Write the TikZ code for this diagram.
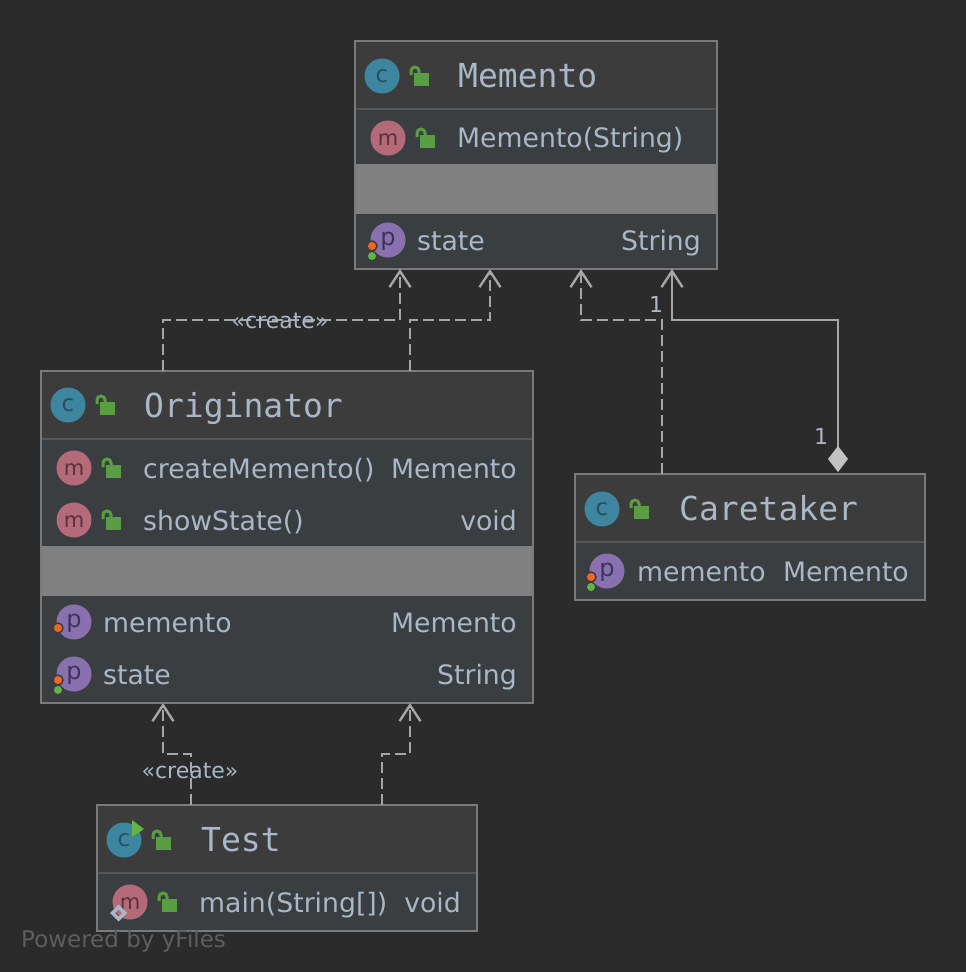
\documentclass[tikz,border=0pt]{standalone}
\usepackage{fontspec}
\setmainfont{DejaVu Sans}
\newfontfamily\titlefam{DejaVu Sans Mono}
\usetikzlibrary{positioning,arrows.meta,calc}

\definecolor{canvas}{HTML}{2B2B2B}
\definecolor{headfill}{HTML}{3C3C3C}
\definecolor{rowfill}{HTML}{3A3E41}
\definecolor{bandfill}{HTML}{808080}
\definecolor{edgeline}{HTML}{7A7A7A}
\definecolor{sepline}{HTML}{565656}
\definecolor{wire}{HTML}{A6A6A6}
\definecolor{diamondfill}{HTML}{C2C2C2}
\definecolor{labeltext}{HTML}{A9B7C6}
\definecolor{poweredtext}{HTML}{5E5E5E}
\definecolor{lockgreen}{HTML}{599E43}
\definecolor{runfill}{HTML}{62B543}
\definecolor{dotfill}{HTML}{F36523}
\definecolor{cfill}{HTML}{3E86A0}
\definecolor{ctext}{HTML}{26505F}
\definecolor{mfill}{HTML}{B56A7A}
\definecolor{mtext}{HTML}{5A323E}
\definecolor{pfill}{HTML}{8971B0}
\definecolor{ptext}{HTML}{3E325C}

\tikzset{
  classbox/.style={draw=edgeline, line width=2pt, fill=headfill, anchor=north west, inner sep=0pt, outer sep=0pt},
  rowpart/.style={fill=rowfill, anchor=north west, inner sep=0pt, outer sep=0pt},
  bandpart/.style={fill=bandfill, anchor=north west, inner sep=0pt, outer sep=0pt, minimum height=50pt},
  titletext/.style={font=\titlefam\fontsize{33}{36}\selectfont, text=labeltext, anchor=base west, inner sep=0pt},
  rowtext/.style={font=\fontsize{26.7}{30}\selectfont, text=labeltext, anchor=base west, inner sep=0pt},
  typetext/.style={font=\fontsize{26.7}{30}\selectfont, text=labeltext, anchor=base east, inner sep=0pt},
  edgetext/.style={font=\fontsize{22}{24}\selectfont, text=labeltext, anchor=base, inner sep=0pt},
  iconbase/.style={circle, minimum size=35pt, inner sep=0pt},
  iconc/.style={iconbase, fill=cfill, text=ctext, font=\fontsize{23}{26}\selectfont, text height=12pt, text depth=0pt},
  iconm/.style={iconbase, fill=mfill, text=mtext, font=\fontsize{21}{24}\selectfont, text height=14pt, text depth=0pt},
  iconp/.style={iconbase, fill=pfill, text=ptext, font=\fontsize{24}{27}\selectfont, text height=14pt, text depth=4pt},
  dotorange/.style={circle, fill=dotfill, draw=rowfill, line width=1.5pt, minimum size=10pt, inner sep=0pt},
  dotgreen/.style={circle, fill=runfill, minimum size=8pt, inner sep=0pt},
  depend/.style={draw=wire, line width=2.4pt, dash pattern=on 11pt off 5pt, -{Straight Barb[length=16pt,width=21pt]}},
  owner/.style={draw=wire, line width=2.4pt, shorten <=2pt, {Diamond[length=26pt,width=20pt,color=diamondfill,fill=diamondfill]}-{Straight Barb[length=16pt,width=21pt]}},
  pics/lockicon/.style={code={
    \fill[lockgreen] (32,-3) rectangle (47,10);
    \draw[lockgreen, line width=3pt] (29,-1) -- (29,-5) arc[start angle=180, end angle=0, radius=4pt] -- (37,-2);
  }},
}

\begin{document}
\begin{tikzpicture}[x=1pt, y=-1pt]
  \fill[canvas] (0,0) rectangle (966,972);

  % class boxes
  \node[classbox, minimum width=362pt, minimum height=228pt] (memento) at (355,41) {};
  \node[classbox, minimum width=492pt, minimum height=332pt] (originator) at (41,371) {};
  \node[classbox, minimum width=350pt, minimum height=126pt] (caretaker) at (575,474) {};
  \node[classbox, minimum width=380pt, minimum height=126pt] (test) at (97,805) {};

  % compartments
  \node[rowpart, minimum width=360pt, minimum height=55pt] (mementoops) at (356,109) {};
  \node[bandpart, minimum width=360pt] (mementoband) at (356,164) {};
  \node[rowpart, minimum width=360pt, minimum height=54pt] (mementoprops) at (356,214) {};
  \node[rowpart, minimum width=490pt, minimum height=107pt] (originatorops) at (42,439) {};
  \node[bandpart, minimum width=490pt] (originatorband) at (42,546) {};
  \node[rowpart, minimum width=490pt, minimum height=106pt] (originatorprops) at (42,596) {};
  \node[rowpart, minimum width=348pt, minimum height=57pt] (caretakerprops) at (576,542) {};
  \node[rowpart, minimum width=378pt, minimum height=57pt] (testops) at (98,873) {};
  \draw[sepline, line width=2pt] (mementoops.north west) -- (mementoops.north east);
  \draw[sepline, line width=2pt] (originatorops.north west) -- (originatorops.north east);
  \draw[sepline, line width=2pt] (caretakerprops.north west) -- (caretakerprops.north east);
  \draw[sepline, line width=2pt] (testops.north west) -- (testops.north east);

  % Memento
  \node[iconc] (c1) at (382,76) {c};
  \pic at (382,76) {lockicon};
  \node[titletext] (t1) at (458,87) {Memento};
  \node[iconm] (m1) at (388,138) {m};
  \pic at (388,138) {lockicon};
  \node[rowtext] (r1) at (457,147) {Memento(String)};
  \node[iconp] (p1) at (388,240) {p};
  \node[dotorange] (o1) at (372,246) {};
  \node[dotgreen] (g1) at (372,256) {};
  \node[rowtext] (r2) at (417,250) {state};
  \node[typetext] (y2) at (701,250) {String};

  % Originator
  \node[iconc] (c2) at (68,405) {c};
  \pic at (68,405) {lockicon};
  \node[titletext] (t2) at (144,417) {Originator};
  \node[iconm] (m2) at (74,468) {m};
  \pic at (74,468) {lockicon};
  \node[rowtext] (r3) at (143,478) {createMemento()};
  \node[typetext] (y3) at (517,478) {Memento};
  \node[iconm] (m3) at (74,520) {m};
  \pic at (74,520) {lockicon};
  \node[rowtext] (r4) at (143,530) {showState()};
  \node[typetext] (y4) at (517,530) {void};
  \node[iconp] (p2) at (74,622) {p};
  \node[dotorange] (o2) at (58,628) {};
  \node[rowtext] (r5) at (103,632) {memento};
  \node[typetext] (y5) at (517,632) {Memento};
  \node[iconp] (p3) at (74,674) {p};
  \node[dotorange] (o3) at (58,680) {};
  \node[dotgreen] (g3) at (58,690) {};
  \node[rowtext] (r6) at (103,684) {state};
  \node[typetext] (y6) at (517,684) {String};

  % Caretaker
  \node[iconc] (c3) at (602,509) {c};
  \pic at (602,509) {lockicon};
  \node[titletext] (t3) at (679,520) {Caretaker};
  \node[iconp] (p4) at (607,571) {p};
  \node[dotorange] (o4) at (591,577) {};
  \node[dotgreen] (g4) at (591,587) {};
  \node[rowtext] (r7) at (637,581) {memento};
  \node[typetext] (y7) at (909,581) {Memento};

  % Test
  \node[iconc] (c4) at (124,840) {c};
  \fill[runfill] (132,820) -- (144,829) -- (132,837) -- cycle;
  \pic at (124,840) {lockicon};
  \node[titletext] (t4) at (201,851) {Test};
  \node[iconm] (m4) at (130,902) {m};
  \draw[labeltext, line width=3.5pt] (118.7,907) -- (124.7,913) -- (118.7,919) -- (112.7,913) -- cycle;
  \pic at (130,902) {lockicon};
  \node[rowtext] (r8) at (199,912) {main(String[])};
  \node[typetext] (y8) at (461,912) {void};

  % connectors
  \coordinate (origleft) at ($(originator.north west)+(122,0)$);
  \coordinate (origright) at ($(originator.north west)+(369,0)$);
  \coordinate (careleft) at ($(caretaker.north west)+(87,0)$);
  \coordinate (careright) at ($(caretaker.north west)+(263,0)$);
  \coordinate (memo1) at ($(memento.south west)+(45,0)$);
  \coordinate (memo2) at ($(memento.south west)+(135,0)$);
  \coordinate (memo3) at ($(memento.south west)+(226,0)$);
  \coordinate (memo4) at ($(memento.south west)+(317,0)$);
  \coordinate (testleft) at ($(test.north west)+(94,0)$);
  \coordinate (testright) at ($(test.north west)+(285,0)$);
  \coordinate (origlow1) at ($(originator.south west)+(122,0)$);
  \coordinate (origlow2) at ($(originator.south west)+(369,0)$);

  \draw[depend] (origleft) |- ($(memo1)+(0,51)$) -- (memo1);
  \draw[depend] (origright) |- ($(memo2)+(0,51)$) -- (memo2);
  \draw[depend] (careleft) |- ($(memo3)+(0,51)$) -- (memo3);
  \draw[owner] (careright) |- ($(memo4)+(0,51)$) -- (memo4);
  \draw[depend] (testleft) |- ($(origlow1)+(0,51)$) -- (origlow1);
  \draw[depend] (testright) |- ($(origlow2)+(0,51)$) -- (origlow2);

  \node[edgetext] (create1) at (280,328) {«create»};
  \node[edgetext] (create2) at (190,778) {«create»};
  \node[edgetext] (one1) at (656,312) {1};
  \node[edgetext] (one2) at (821,444) {1};

  \node[font=\fontsize{23}{25}\selectfont, text=poweredtext, anchor=base west, inner sep=0pt] (powered) at (21,947) {Powered by yFiles};
\end{tikzpicture}
\end{document}
